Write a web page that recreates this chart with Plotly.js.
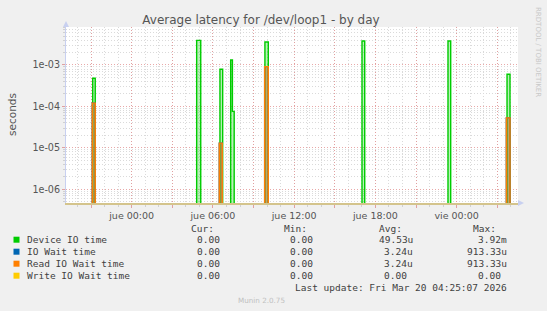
<!DOCTYPE html>
<html>
<head>
<meta charset="utf-8">
<script src="https://cdn.plot.ly/plotly-3.0.1.min.js"></script>
<style>
html,body{margin:0;padding:0;background:#f0f0f0;}
#chart{width:547px;height:311px;}
</style>
</head>
<body>
<div id="chart"></div>
<script>
// ---- Data (hours relative to jue 00:00; step samples: value holds until next time) ----
const deviceTimes = [-2.88, -2.69, 4.80, 5.10, 6.52, 6.72, 7.31, 7.44, 7.57, 9.84, 10.09, 17.01, 17.21, 23.36, 23.56, 27.72, 27.94];
const deviceIO    = [4.8e-4, 0, 3.92e-3, 0, 7.9e-4, 0, 1.32e-3, 7.6e-5, 0, 3.6e-3, 0, 3.8e-3, 0, 3.8e-3, 0, 6.0e-4, 0];
const readTimes   = [-2.91, -2.69, 6.47, 6.69, 9.82, 10.09, 27.67, 27.94];
const readIOWait  = [1.2e-4, 0, 1.3e-5, 0, 9.1333e-4, 0, 5.3e-5, 0];
const ioWaitTimes = [-2.91, -2.69, 6.47, 6.69, 9.82, 10.09, 27.67, 27.94];
const ioWait      = [1.2e-4, 0, 1.3e-5, 0, 9.1333e-4, 0, 5.3e-5, 0];
const writeTimes  = [-4.85, 28.53];
const writeIOWait = [0, 0];

const xTickVals = [-3, 0, 3, 6, 9, 12, 15, 18, 21, 24, 27];
const xTickText = ['', 'jue 00:00', '', 'jue 06:00', '', 'jue 12:00', '', 'jue 18:00', '', 'vie 00:00', ''];
const yTickVals = [1e-6, 1e-5, 1e-4, 1e-3];
const yTickText = ['1e-06', '1e-05', '1e-04', '1e-03'];

const seriesNames = ['Device IO time', 'IO Wait time', 'Read IO Wait time', 'Write IO Wait time'];
const curVals = ['0.00', '0.00', '0.00', '0.00'];
const minVals = ['0.00', '0.00', '0.00', '0.00'];
const avgVals = ['49.53u', '3.24u', '3.24u', '0.00'];
const maxVals = ['3.92m', '913.33u', '913.33u', '0.00'];
const colHeaders = ['Cur:', 'Min:', 'Avg:', 'Max:'];
const lastUpdate = 'Last update: Fri Mar 20 04:25:07 2026';

// ---- Styles / layout ----
const colors = ['#00CC00', '#0066B3', '#FF8000', '#FFCC00'];
const fills  = ['rgba(0,204,0,0.28)', 'rgba(0,102,179,0.3)', 'rgba(255,128,0,0.4)', 'rgba(255,204,0,0.3)'];
const FLOOR = 1e-9;
const W = 547, H = 311, ML = 66, MR = 29, MT = 27, MB = 108;
const PW = W - ML - MR, PH = H - MT - MB;
const px = x => (x - ML) / PW;
const py = y => (H - MB - y) / PH;

function stepTrace(t, v, i, width) {
  const x = [t[0]], y = [FLOOR];
  for (let k = 0; k < t.length; k++) { x.push(t[k]); y.push(v[k] > 0 ? v[k] : FLOOR); }
  return {type: 'scatter', mode: 'lines', x: x, y: y, name: seriesNames[i],
          line: {color: colors[i], width: width, shape: 'hv'},
          fill: 'toself', fillcolor: fills[i], hoverinfo: 'skip', showlegend: false};
}

const traces = [
  stepTrace(deviceTimes, deviceIO, 0, 1.4),
  stepTrace(ioWaitTimes, ioWait, 1, 1.4),
  stepTrace(readTimes, readIOWait, 2, 1.4),
  stepTrace(writeTimes, writeIOWait, 3, 1.4)
];

const yMinor = [];
for (let e = -7; e <= -3; e++) for (let m = 2; m <= 9; m++) yMinor.push(m * Math.pow(10, e));

const monoFont = {family: 'DejaVu Sans Mono', size: 9.5, color: '#404040'};
const CW = 5.72;
const colEnds = [227.4, 320.7, 415, 509];
const rowYs = [239.7, 251.7, 263.7, 275.7];
const ann = [];
function addText(text, x, y, anchor, font, extra) {
  ann.push(Object.assign({text: text, xref: 'paper', yref: 'paper', x: px(x), y: py(y),
    xanchor: anchor, yanchor: 'middle', showarrow: false, font: font}, extra || {}));
}
const hasUnit = s => /[a-zA-Z]$/.test(s);
colHeaders.forEach((h, c) => addText(h, colEnds[c] - 2 * CW, 228.3, 'right', monoFont));
const cols = [curVals, minVals, avgVals, maxVals];
const shapes = [];
seriesNames.forEach((n, r) => {
  addText(n, 25, rowYs[r], 'left', monoFont);
  cols.forEach((col, c) => {
    const s = col[r];
    addText(s, colEnds[c] - (hasUnit(s) ? 0 : CW), rowYs[r], 'right', monoFont);
  });
  shapes.push({type: 'rect', xref: 'paper', yref: 'paper', x0: px(13.5), x1: px(19.5),
    y0: py(rowYs[r] - 3), y1: py(rowYs[r] + 3), fillcolor: colors[r], line: {width: 0}});
});
addText(lastUpdate, 509, 287.3, 'right', monoFont);
addText('Munin 2.0.75', 261, 300.3, 'center', {family: 'DejaVu Sans', size: 7.2, color: '#c0c0c0'});
addText('seconds', 11.5, 114.5, 'center', {family: 'DejaVu Sans', size: 10.5, color: '#555'}, {textangle: -90});
addText('RRDTOOL / TOBI OETIKER', 538, 52, 'center', {family: 'DejaVu Sans', size: 7, color: '#c8c8c8'}, {textangle: 90});

// axis arrows
shapes.push({type: 'path', xref: 'paper', yref: 'paper', fillcolor: '#c8d0f0', line: {width: 0},
  path: `M ${px(63)} ${py(27)} L ${px(69)} ${py(27)} L ${px(66)} ${py(21)} Z`});
shapes.push({type: 'path', xref: 'paper', yref: 'paper', fillcolor: '#c8d0f0', line: {width: 0},
  path: `M ${px(518)} ${py(200)} L ${px(518)} ${py(206)} L ${px(524)} ${py(203)} Z`});

const layout = {
  width: W, height: H,
  margin: {l: ML, r: MR, t: MT, b: MB, pad: 0},
  paper_bgcolor: '#f0f0f0', plot_bgcolor: '#ffffff',
  title: {text: 'Average latency for /dev/loop1 - by day', xref: 'container', yref: 'container',
    x: 261 / W, xanchor: 'center', y: 1 - 19.5 / H, yanchor: 'middle',
    font: {family: 'DejaVu Sans', size: 12, color: '#555'}},
  showlegend: false,
  xaxis: {type: 'linear', range: [-4.85, 28.53], tickmode: 'array', tickvals: xTickVals, ticktext: xTickText,
    showgrid: true, gridcolor: 'rgba(225,140,140,0.75)', griddash: '1px,2px', gridwidth: 1,
    zeroline: false, showline: true, linecolor: '#d4c48c', linewidth: 1.5,
    ticks: 'outside', ticklen: 3, tickcolor: '#e0a0a0', tickwidth: 1,
    tickfont: {family: 'DejaVu Sans', size: 9.5, color: '#555'},
    minor: {dtick: 1, tick0: 0, showgrid: true, gridcolor: '#dadada', griddash: '1px,2px', gridwidth: 1,
      ticks: 'outside', ticklen: 2, tickcolor: '#d0d0d0'},
    fixedrange: true},
  yaxis: {type: 'log', range: [-6.331, -2.083], tickmode: 'array', tickvals: yTickVals, ticktext: yTickText,
    showgrid: true, gridcolor: 'rgba(225,140,140,0.75)', griddash: '1px,2px', gridwidth: 1,
    zeroline: false, showline: true, linecolor: '#c8d0f0', linewidth: 1,
    ticks: 'outside', ticklen: 3, tickcolor: '#e0a0a0',
    tickfont: {family: 'DejaVu Sans', size: 9.6, color: '#555'},
    minor: {tickmode: 'array', tickvals: yMinor, showgrid: true, gridcolor: '#dadada', griddash: '1px,2px',
      gridwidth: 1, ticks: 'outside', ticklen: 2, tickcolor: '#d0d0d0'},
    fixedrange: true},
  annotations: ann,
  shapes: shapes
};

Plotly.newPlot('chart', traces, layout, {staticPlot: true, displayModeBar: false});
</script>
</body>
</html>
